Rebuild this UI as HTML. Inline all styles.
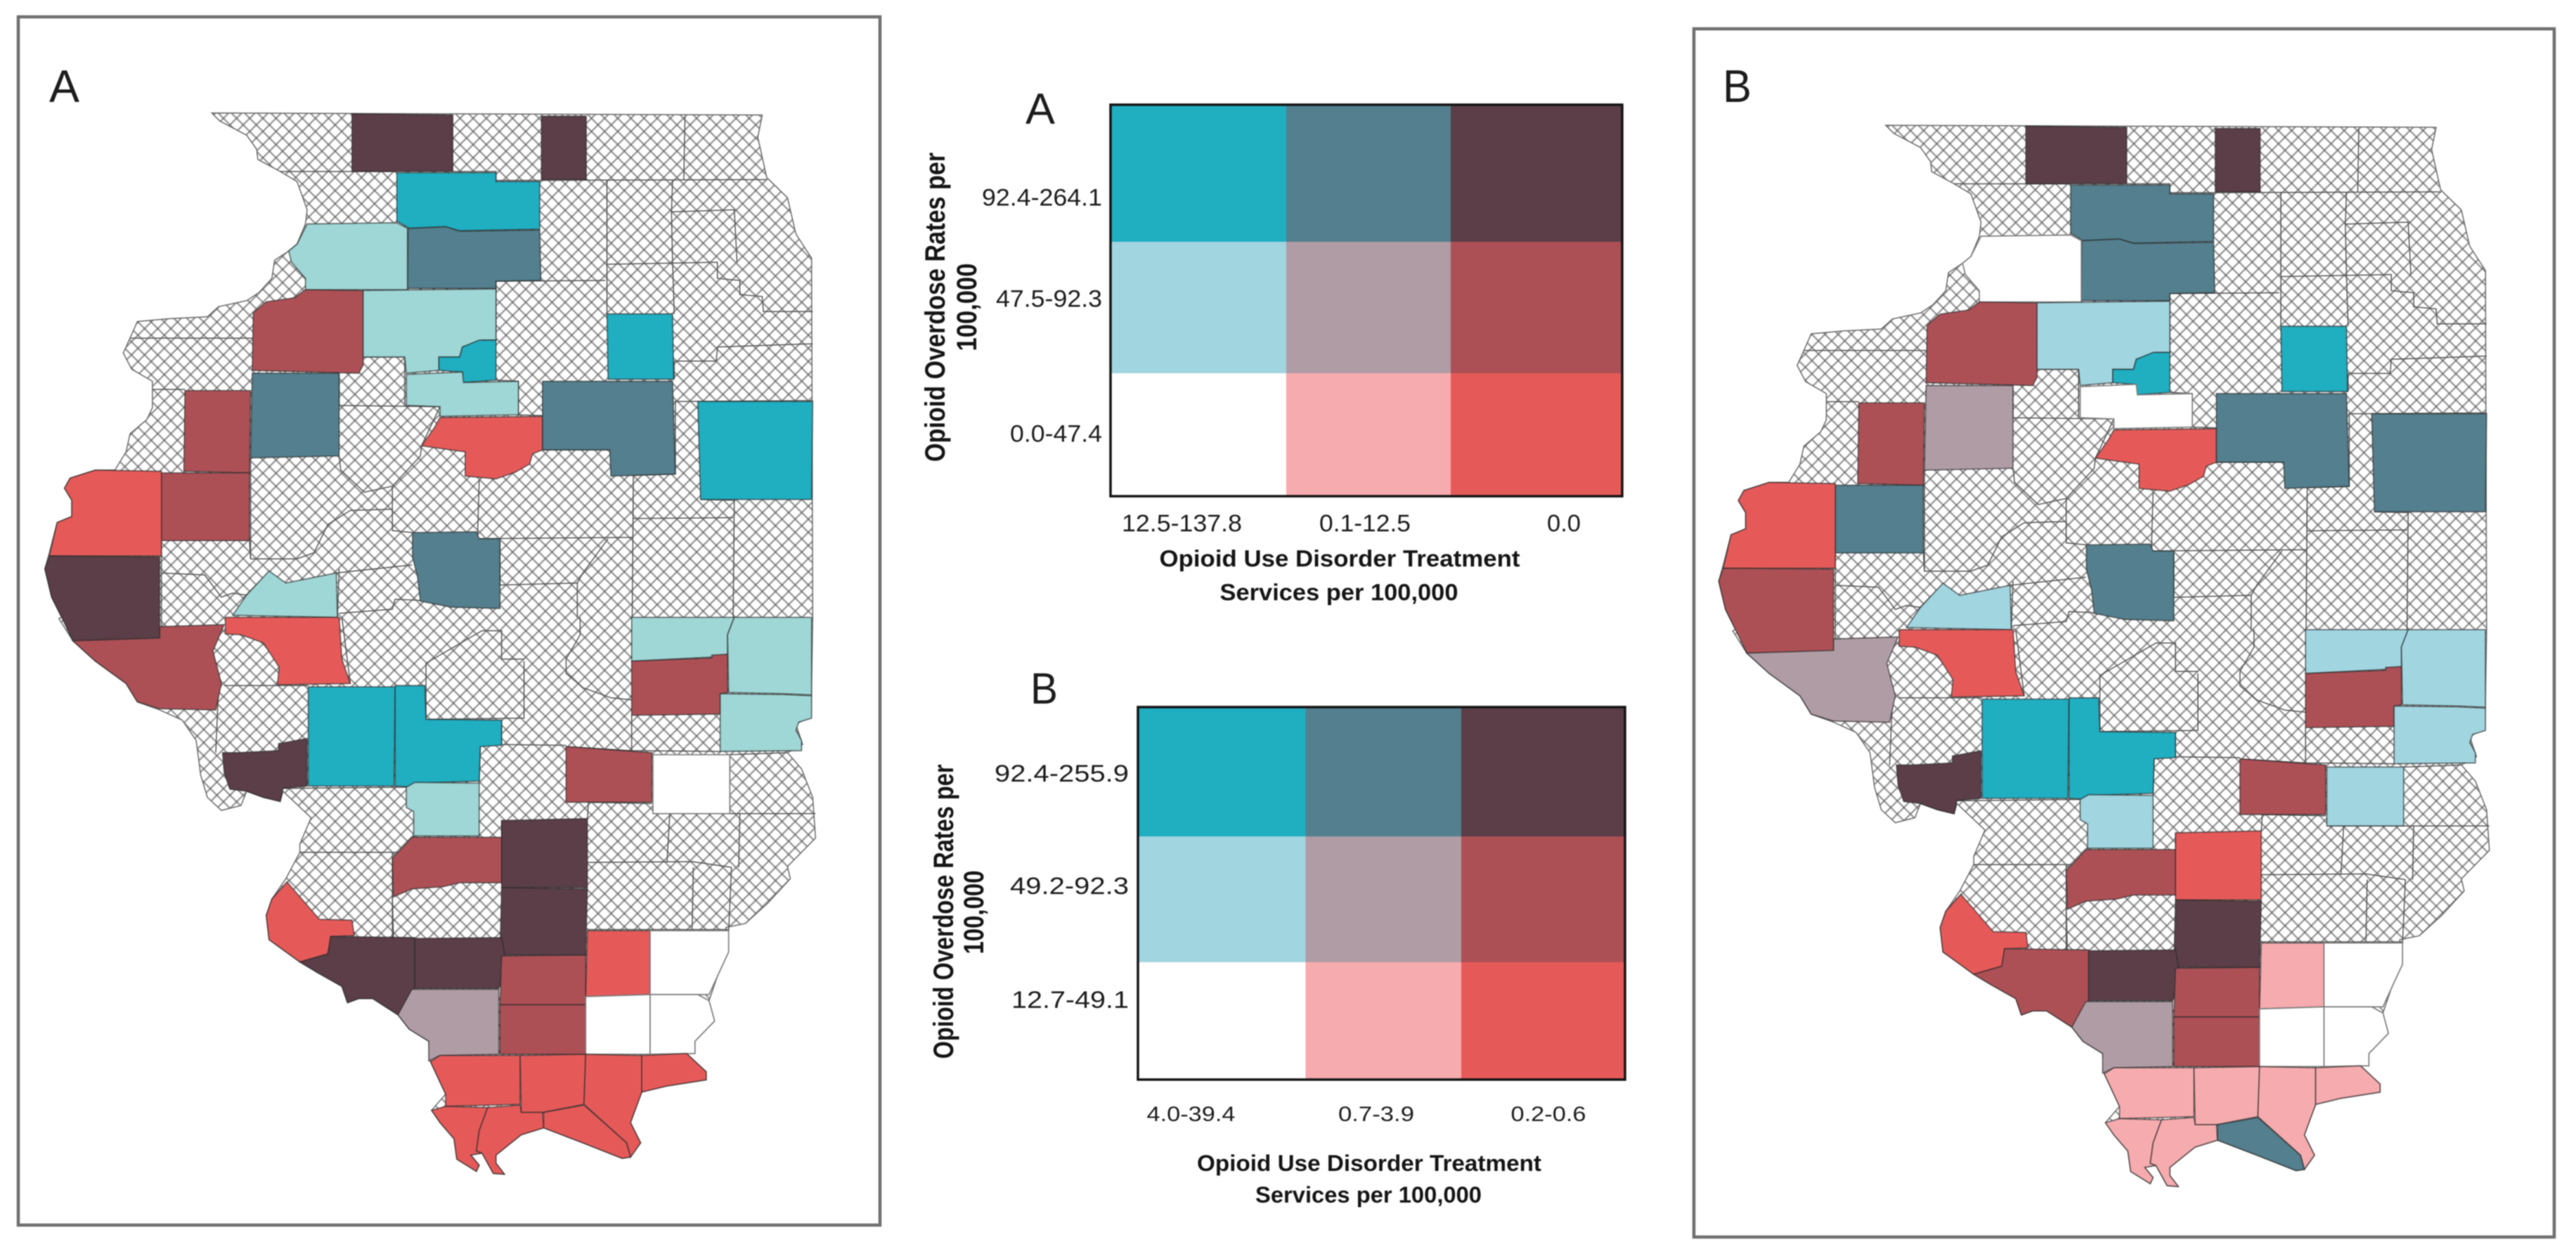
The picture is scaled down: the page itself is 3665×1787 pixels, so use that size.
<!DOCTYPE html>
<html lang="en">
<head>
<meta charset="utf-8">
<title>Opioid overdose rates and treatment services bivariate maps</title>
<style>
html,body{margin:0;padding:0;background:#fff;}
#figure{display:block;width:3665px;height:1787px;background:#fff;filter:blur(0.7px);}
text{font-family:"Liberation Sans",sans-serif;fill:#1c1c1c;}
.bold{font-weight:bold;fill:#151515;}
</style>
</head>
<body>
<svg id="figure" xmlns="http://www.w3.org/2000/svg" width="3665" height="1787" viewBox="0 0 3665 1787">
  <defs>
    <pattern id="hatch" patternUnits="userSpaceOnUse" width="18.7" height="18.7">
      <rect width="18.7" height="18.7" fill="#fff"/>
      <path d="M0 0L18.7 18.7M18.7 0L0 18.7" stroke="#969696" stroke-width="2.3" fill="none"/>
      <circle cx="9.35" cy="9.35" r="1.2" fill="#6a6a6a"/>
      <circle cx="0" cy="0" r="1.2" fill="#6a6a6a"/><circle cx="18.7" cy="0" r="1.2" fill="#6a6a6a"/>
      <circle cx="0" cy="18.7" r="1.2" fill="#6a6a6a"/><circle cx="18.7" cy="18.7" r="1.2" fill="#6a6a6a"/>
    </pattern>
  </defs>
  <rect x="26" y="24" width="1226" height="1719" fill="#fff" stroke="#6f6f6f" stroke-width="4.5"/>
  <rect x="2410" y="41" width="1224" height="1719" fill="#fff" stroke="#6f6f6f" stroke-width="4.5"/>
  <text x="70" y="145" font-size="65" textLength="43" lengthAdjust="spacingAndGlyphs">A</text>
  <text x="2451" y="145" font-size="65" textLength="41" lengthAdjust="spacingAndGlyphs">B</text>
  <g id="map-a"></g>
  <g id="map-b" transform="translate(2381.5,17.5)"></g>
  <g id="legend-a">
    <text x="1459" y="176" font-size="62" textLength="42" lengthAdjust="spacingAndGlyphs">A</text>
    <text class="bold" x="1906" y="806" font-size="33" text-anchor="middle" textLength="513" lengthAdjust="spacingAndGlyphs">Opioid Use Disorder Treatment</text>
    <text class="bold" x="1905" y="854" font-size="33" text-anchor="middle" textLength="339" lengthAdjust="spacingAndGlyphs">Services per 100,000</text>
    <text class="bold" transform="translate(1344,437) rotate(-90)" font-size="40" text-anchor="middle" textLength="440" lengthAdjust="spacingAndGlyphs">Opioid Overdose Rates per</text>
    <text class="bold" transform="translate(1389,437) rotate(-90)" font-size="40" text-anchor="middle" textLength="125" lengthAdjust="spacingAndGlyphs">100,000</text>
  </g>
  <g id="legend-b">
    <text x="1466" y="1001" font-size="62" textLength="39" lengthAdjust="spacingAndGlyphs">B</text>
    <text class="bold" x="1948" y="1666" font-size="32" text-anchor="middle" textLength="490" lengthAdjust="spacingAndGlyphs">Opioid Use Disorder Treatment</text>
    <text class="bold" x="1947" y="1711" font-size="32" text-anchor="middle" textLength="322" lengthAdjust="spacingAndGlyphs">Services per 100,000</text>
    <text class="bold" transform="translate(1356,1297) rotate(-90)" font-size="40" text-anchor="middle" textLength="419" lengthAdjust="spacingAndGlyphs">Opioid Overdose Rates per</text>
    <text class="bold" transform="translate(1399,1298) rotate(-90)" font-size="40" text-anchor="middle" textLength="119" lengthAdjust="spacingAndGlyphs">100,000</text>
  </g>
</svg>
<script>
// ---- chart data ----
const serviceLabelsA = ['12.5-137.8', '0.1-12.5', '0.0'];
const overdoseLabelsA = ['92.4-264.1', '47.5-92.3', '0.0-47.4'];
const serviceLabelsB = ['4.0-39.4', '0.7-3.9', '0.2-0.6'];
const overdoseLabelsB = ['92.4-255.9', '49.2-92.3', '12.7-49.1'];
const countyNames = ['stephenson','boone','ogle','lee','whiteside','henry','bureau','putnam','marshall','ford','knox','warren','mcdonough','hancock','adams','tazewell','champaign','vermilion','sangamon','scott','greene','pike','montgomery','bond','madison','marion','effingham','jasper','coles','edgar','cumberland','clark','washington','jefferson','franklin','randolph','jackson','williamson','saline','pope','hamilton','white','gallatin','hardin','union','johnson','massac','pulaski','alexander','hardin-south','ballard','livingston'];
// Row index into the legend: 0 = highest overdose tier, 2 = lowest. Hatched counties are not listed.
const overdoseTierA = [0,0,0,0,1,1,1,0,1,0,0,1,1,2,0,2,0,0,0,1,2,1,0,0,0,1,1,2,1,1,1,1,1,0,0,2,0,0,1,1,2,2,2,2,1,2,2,2,2,2,2,2];
const serviceTierA  = [2,2,0,1,0,2,0,0,0,0,1,2,2,2,2,2,1,0,1,0,2,2,0,0,2,0,2,0,0,0,2,0,2,2,2,2,2,2,2,2,2,0,0,0,1,2,2,2,2,2,2,2];
const overdoseTierB = [0,0,0,0,2,1,1,0,2,0,1,1,0,2,1,2,0,0,0,1,2,1,0,0,0,1,1,1,1,1,1,1,1,2,0,2,1,0,1,1,2,2,2,2,1,2,2,2,2,2,2,0];
const serviceTierB  = [2,2,1,1,0,2,0,0,0,0,1,2,1,2,2,2,1,1,1,0,2,1,0,0,2,0,2,0,0,0,2,0,2,2,2,2,2,2,2,2,1,0,0,0,1,1,1,1,1,1,1,1];

// ---- styling and layout (not data) ----
const tierColors = [['#20aec1','#537f8e','#5b3e47'],['#a1d5e0','#b09ca5','#ad5056'],['#ffffff','#f6abae','#e55a59']];
const mapALightTeal = '#9fd6d6';
const legendLayoutA = {key:'a',x:[1580,1830,2064,2308],y:[149,344,531,706],
  xTickCenter:[1681.5,1942,2225],xTickWidth:[171,130,48],xTickBase:756,
  yTickRight:1568,yTickWidth:[171,151,131],yTickBase:[292.5,436.6,628.5],font:34,xFont:34};
const legendLayoutB = {key:'b',x:[1619,1857.5,2079,2312],y:[1006,1190,1369,1536],
  xTickCenter:[1694.5,1958,2203],xTickWidth:[126,108,107],xTickBase:1595,
  yTickRight:1606,yTickWidth:[191,169,167],yTickBase:[1112,1272,1434],font:34,xFont:30};

// ---- map geometry: traced outlines, "u" upper-sheet and "l" lower-sheet coordinates ----
const toUpper = (x, y) => [x / 1.254, y / 1.742];
const toLower = (x, y) => [x / 1.254, 880 + y / 1.729];
const stateOutline = 'u 378,280 1360,285 1352,340 1368,440 1405,490 1420,580 1448,640 1450,1530|l 1450,0 1447,240 1420,260 1432,310 1405,330 1430,370 1450,440 1455,540 1405,610 1410,640 1370,700 1330,750 1295,760 1300,820 1280,880 1265,940 1275,990 1240,1040 1240,1070 1225,1070 1260,1115 1260,1135 1190,1150 1145,1165 1125,1240 1143,1290 1125,1325 1110,1328 1040,1290 970,1253 930,1270 885,1320 885,1340 900,1367 880,1365 860,1315 840,1320 855,1345 850,1360 815,1330 810,1280 785,1240 770,1210 795,1170 768,1090 765,1040 730,1010 710,975 665,935 640,935 620,945 610,905 565,870 535,845 480,790 475,730 485,690 510,640 535,575 535,555 555,490 505,425 500,450 470,440 440,425 430,460 395,472 370,440 358,385 350,300 325,250 285,225 245,205 225,160 170,105 130,55 105,0|u 110,1530 92,1480 80,1410 88,1370 102,1295 128,1280 128,1240 115,1210 125,1185 170,1165 205,1165 225,1120 232,1075 262,1040 272,1010 272,945 235,915 220,875 232,838 245,797 300,790 370,785 390,760 440,745 462,725 485,690 490,645 515,622 530,605 545,555 548,520 530,450 500,425 460,395 458,370 440,335 392,300';
const countyBorders = [
 'u 500,425 708,425','u 808,425 885,425 885,447 966,447','u 966,447 1368,445','u 1222,288 1220,445','u 1083,447 1083,778','u 1200,447 1198,525 1200,650 1203,778',
 'u 1198,525 1310,520 1315,650','u 1082,655 1280,650 1280,690 1320,695 1320,730 1360,735 1362,772 1450,772','u 885,697 1080,695','u 885,697 885,843','u 885,942 925,945 925,1028 968,1030',
 'u 1203,895 1278,895 1280,860 1450,852','u 1203,940 1203,895','u 1203,995 1450,993','u 1205,995 1205,1175 1130,1178 1128,1530','u 1250,1238 1310,1240 1308,1530','u 1130,1285 1308,1283',
 'u 855,1190 852,1335 1128,1332','u 968,1115 1088,1115','u 605,1005 785,1008 752,1105','u 605,1130 608,1165 650,1220 700,1205 750,1130 752,1105','u 700,1205 700,1315 736,1320','u 625,1265 700,1262',
 'u 625,1265 585,1300 560,1370 530,1385 447,1385 445,1340','u 447,1135 447,1385','u 288,1340 288,1560','u 288,1420 365,1425 395,1480 415,1470 440,1475','u 600,1420 735,1400','u 605,1410 602,1530',
 'u 605,1520 700,1510 705,1485 775,1490 805,1505','u 892,1450 1030,1445 1030,1530','u 892,1340 892,1450','u 1085,1335 1040,1420 1030,1445','u 232,838 450,838','u 272,965 330,965','u 648,885 722,885 722,1005','u 605,925 605,1005',
 'l 400,165 550,165','l 390,165 385,330','l 760,110 860,30 895,30 895,100 935,100','l 935,105 935,245 760,248','l 760,110 760,248','l 895,250 895,310 1010,312','l 1035,-3 1035,40 1010,100 1010,135 1040,170 1090,195 1127,200',
 'l 1127,238 1127,325 1285,327','l 1127,325 1010,315','l 857,315 855,400','l 1050,452 1048,492','l 1048,600 1235,598 1305,612','l 1195,480 1190,600','l 1320,480 1318,612','l 1165,480 1455,480','l 1237,612 1235,760','l 1305,612 1300,770','l 1048,765 1300,765',
 'l 505,418 725,415','l 738,535 738,575 535,575','l 700,575 700,785','l 1048,452 1163,455','l 1302,335 1405,330','l 895,497 895,538','l 610,-3 625,160','l 700,680 702,785'
];
const countyShapes = {
 'stephenson':'u 628,282 808,285 808,425 628,425',
 'boone':'u 966,288 1046,288 1046,445 966,445',
 'ogle':'u 708,428 885,428 885,450 963,450 963,568 820,572 795,562 730,566 708,548',
 'lee':'u 728,566 795,562 820,573 963,570 965,695 885,697 885,715 727,715',
 'whiteside':'u 548,555 708,552 727,566 727,718 545,718 545,690 520,650 515,622 530,605',
 'henry':'u 648,720 648,905 640,925 450,918 452,775 475,748 525,738 545,718',
 'bureau':'u 648,720 885,716 885,843 860,843 825,860 820,885 783,885 783,918 725,925 722,885 648,885',
 'putnam':'u 783,885 820,885 825,860 855,843 885,843 885,942 825,948 825,922 783,918',
 'marshall':'u 725,928 825,922 827,948 925,945 925,1028 785,1032 785,1008 725,1005',
 'ford':'u 1083,778 1200,778 1202,940 1085,940',
 'knox':'u 450,925 605,925 605,1130 447,1135',
 'warren':'u 330,968 447,968 445,1172 328,1168',
 'mcdonough':'u 288,1172 445,1172 445,1340 288,1340',
 'hancock':'u 288,1168 288,1378 88,1378 102,1295 128,1280 128,1240 115,1210 125,1185 170,1165',
 'adams':'u 88,1378 285,1380 285,1583 130,1588 110,1530 92,1480 80,1410',
 'tazewell':'u 785,1035 968,1032 968,1115 950,1125 945,1150 920,1170 885,1187 830,1180 830,1120 752,1105 775,1060',
 'champaign':'u 968,945 1200,945 1205,1175 1090,1180 1088,1115 968,1115',
 'vermilion':'u 1245,995 1450,995 1448,1238 1250,1238',
 'sangamon':'u 736,1320 850,1318 855,1335 892,1335 892,1508 805,1505 750,1490 745,1430 736,1380',
 'scott':'u 415,1525 440,1475 480,1415 510,1445 600,1420 602,1530',
 'greene':'l 402,-3 605,-3 610,100 625,160 495,163 498,120 470,60 430,40 402,38',
 'pike':'l 130,55 285,48 285,20 400,15 380,80 395,160 385,225 285,222 245,205 225,160 170,105',
 'montgomery':'l 550,168 705,168 703,412 550,412',
 'bond':'l 705,165 758,165 760,248 895,250 895,312 857,315 855,400 740,405 738,415 705,412',
 'madison':'l 397,330 425,330 497,325 497,308 548,295 548,412 505,418 500,450 470,440 440,425 410,420 400,380',
 'marion':'l 725,415 740,403 855,405 855,535 738,535 738,475 725,465',
 'effingham':'l 1010,315 1163,330 1163,452 1010,452',
 'jasper':'l 1165,335 1302,335 1302,480 1165,480',
 'coles':'l 1127,-3 1310,-3 1298,40 1298,88 1270,95 1127,105',
 'edgar':'l 1310,-3 1448,-3 1448,188 1398,185 1300,182 1298,40',
 'cumberland':'l 1127,105 1270,97 1270,90 1298,88 1298,182 1285,185 1285,235 1127,238',
 'clark':'l 1285,185 1398,187 1448,190 1448,245 1425,255 1420,275 1430,300 1430,325 1285,327',
 'washington':'l 700,590 735,538 895,538 895,650 820,650 790,660 735,665 702,685',
 'jefferson':'l 895,497 1048,492 1048,662 895,662',
 'franklin':'l 895,662 1048,665 1045,828 892,828',
 'randolph':'l 512,648 570,740 628,742 632,780 590,782 585,825 535,845 480,790 475,730 485,690',
 'jackson':'l 590,782 740,785 740,910 710,975 665,935 640,935 620,945 610,905 565,870 535,845 585,825',
 'williamson':'l 740,787 895,785 903,845 890,910 740,910',
 'saline':'l 895,830 1045,828 1045,950 892,950',
 'pope':'l 892,950 1045,950 1045,1072 892,1072',
 'hamilton':'l 1048,768 1160,768 1160,925 1045,930',
 'white':'l 1160,768 1300,768 1300,820 1280,880 1265,925 1160,925',
 'gallatin':'l 1045,930 1160,925 1160,1072 1045,1072',
 'hardin':'l 1160,925 1245,925 1265,940 1275,990 1240,1040 1240,1070 1160,1072',
 'union':'l 735,912 890,912 890,1072 785,1075 765,1088 765,1040 730,1010 710,975',
 'johnson':'l 768,1090 785,1075 928,1075 928,1195 795,1200 795,1170',
 'massac':'l 928,1075 1045,1072 1042,1195 968,1215 930,1215',
 'pulaski':'l 1045,1072 1145,1075 1145,1165 1125,1240 1143,1290 1125,1325 1118,1290 1042,1195',
 'alexander':'l 1145,1075 1225,1070 1260,1115 1260,1135 1190,1150 1145,1165',
 'hardin-south':'l 770,1210 795,1200 870,1203 855,1260 850,1310 860,1315 840,1320 855,1345 850,1360 815,1330 810,1280 785,1240',
 'ballard':'l 870,1203 928,1197 930,1215 968,1215 970,1253 930,1270 885,1320 885,1340 900,1367 880,1365 860,1315 850,1310 855,1260',
 'livingston':'l 970,1215 1042,1197 1118,1290 1125,1325 1110,1328 1040,1290 970,1253'
};

// ---- drawing ----
const SVG_NS = 'http://www.w3.org/2000/svg';
function geometryPoints(geometry) {
  const out = [];
  geometry.split('|').forEach(function (part) {
    const tokens = part.trim().split(/\s+/);
    const project = tokens[0] === 'u' ? toUpper : toLower;
    tokens.slice(1).forEach(function (pair) {
      const xy = pair.split(',').map(Number);
      const p = project(xy[0], xy[1]);
      out.push(p[0].toFixed(1) + ',' + p[1].toFixed(1));
    });
  });
  return out.join(' ');
}
function drawMap(groupId, prefix, rowTiers, colTiers, lightOverride) {
  const group = document.getElementById(groupId);
  const base = document.createElementNS(SVG_NS, 'polygon');
  
  
  base.setAttribute('points', geometryPoints(stateOutline));
  base.setAttribute('fill', 'url(#hatch)');
  base.setAttribute('stroke', '#666');
  base.setAttribute('stroke-width', '1.5');
  group.appendChild(base);
  countyBorders.forEach(function (border) {
    const line = document.createElementNS(SVG_NS, 'polyline');
    
    
    line.setAttribute('points', geometryPoints(border));
    line.setAttribute('fill', 'none');
    line.setAttribute('stroke', '#555');
    line.setAttribute('stroke-width', '1.5');
    group.appendChild(line);
  });
  countyNames.forEach(function (name, i) {
    const r = rowTiers[i], c = colTiers[i];
    let color = tierColors[r][c];
    if (lightOverride && r === 1 && c === 0) { color = lightOverride; }
    const county = document.createElementNS(SVG_NS, 'polygon');
    
    
    county.setAttribute('points', geometryPoints(countyShapes[name]));
    county.setAttribute('fill', color);
    county.setAttribute('stroke', color === '#ffffff' ? '#7e7e7e' : '#2a2a2a');
    county.setAttribute('stroke-opacity', color === '#ffffff' ? '1' : '0.65');
    county.setAttribute('stroke-width', '1.7');
    group.appendChild(county);
  });
}
function drawLegend(layout, serviceLabels, overdoseLabels) {
  const group = document.getElementById('legend-' + layout.key);
  const xBand = function (c) { return [layout.x[c], layout.x[c + 1]]; };
  const yBand = function (r) { return [layout.y[r], layout.y[r + 1]]; };
  overdoseLabels.forEach(function (rowLabel, r) {
    serviceLabels.forEach(function (colLabel, c) {
      const xb = xBand(c), yb = yBand(r);
      const cell = document.createElementNS(SVG_NS, 'rect');
      
      
      cell.setAttribute('x', xb[0]);
      cell.setAttribute('y', yb[0]);
      cell.setAttribute('width', xb[1] - xb[0]);
      cell.setAttribute('height', yb[1] - yb[0]);
      cell.setAttribute('fill', tierColors[r][c]);
      group.appendChild(cell);
    });
    const tick = document.createElementNS(SVG_NS, 'text');
    
    
    tick.setAttribute('x', layout.yTickRight);
    tick.setAttribute('y', layout.yTickBase[r]);
    tick.setAttribute('text-anchor', 'end');
    tick.setAttribute('font-size', layout.font);
    tick.setAttribute('textLength', layout.yTickWidth[r]);
    tick.setAttribute('lengthAdjust', 'spacingAndGlyphs');
    tick.textContent = rowLabel;
    group.appendChild(tick);
  });
  serviceLabels.forEach(function (colLabel, c) {
    const tick = document.createElementNS(SVG_NS, 'text');
    
    
    tick.setAttribute('x', layout.xTickCenter[c]);
    tick.setAttribute('y', layout.xTickBase);
    tick.setAttribute('text-anchor', 'middle');
    tick.setAttribute('font-size', layout.xFont);
    tick.setAttribute('textLength', layout.xTickWidth[c]);
    tick.setAttribute('lengthAdjust', 'spacingAndGlyphs');
    tick.textContent = colLabel;
    group.appendChild(tick);
  });
  const frame = document.createElementNS(SVG_NS, 'rect');
  
  
  frame.setAttribute('x', layout.x[0]);
  frame.setAttribute('y', layout.y[0]);
  frame.setAttribute('width', layout.x[3] - layout.x[0]);
  frame.setAttribute('height', layout.y[3] - layout.y[0]);
  frame.setAttribute('fill', 'none');
  frame.setAttribute('stroke', '#141414');
  frame.setAttribute('stroke-width', '3.5');
  group.appendChild(frame);
}
drawMap('map-a', 'map-a', overdoseTierA, serviceTierA, mapALightTeal);
drawMap('map-b', 'map-b', overdoseTierB, serviceTierB, null);
drawLegend(legendLayoutA, serviceLabelsA, overdoseLabelsA);
drawLegend(legendLayoutB, serviceLabelsB, overdoseLabelsB);
</script>
</body>
</html>
